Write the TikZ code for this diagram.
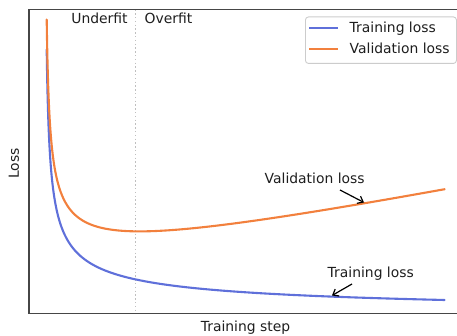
\documentclass[tikz,border=0pt]{standalone}
\usepackage{fontspec}
\setmainfont{DejaVu Sans}
\usetikzlibrary{arrows.meta}
\definecolor{trainc}{RGB}{95,112,218}
\definecolor{valc}{RGB}{242,128,61}
\definecolor{spinec}{RGB}{70,70,70}
\definecolor{txtc}{RGB}{30,30,30}
\tikzset{
  lbl/.style={inner sep=0pt, text=txtc, font=\fontsize{13.9}{16}\selectfont},
  spine/.style={draw=spinec, line width=1.3},
  curve/.style={line width=2.1, line join=round, line cap=round},
  guide/.style={draw=black!25, line width=1.4, dash pattern=on 1.4 off 2.4},
  note/.style={draw=black, line width=1.2, -{Straight Barb[length=5,width=8]}},
  legendbox/.style={draw=black!20, fill=white, rounded corners=3, line width=0.9}
}
\begin{document}
\begin{tikzpicture}[x=1pt, y=-1pt]
  \useasboundingbox (0,0) rectangle (457,336);

  % under/overfit boundary
  \draw[guide] (135.5,9.5) -- (135.5,313.7);

  % loss curves, parametrised by s = sqrt(step offset)
  \draw[curve, trainc] plot[domain=1.393:20.0, samples=200, variable=\s]
    ({44.76+\s*\s}, {318.75-375/\s});
  \draw[curve, valc] plot[domain=1.393:20.0, samples=200, variable=\s]
    ({44.76+\s*\s}, {289.14-375/\s-0.203*\s*\s});

  % axes frame
  \draw[spine] (459,9.5) -- (29,9.5) -- (29,313.7) -- (459,313.7);

  % region labels
  \node[lbl, anchor=base] (under) at (99.5,23.6) {Underfit};
  \node[lbl, anchor=base] (over) at (168.5,23.6) {Overfit};

  % axis labels
  \node[lbl, anchor=base] (xlab) at (245.5,331) {Training step};
  \node[lbl, anchor=base, rotate=90] (ylab) at (18.8,163.5) {Loss};

  % legend
  \node[legendbox, minimum width=151, minimum height=46.5, anchor=north west] (legend) at (305,16.5) {};
  \coordinate (lta) at (309,28);
  \coordinate (ltb) at (338,28);
  \coordinate (lva) at (309,49);
  \coordinate (lvb) at (338,49);
  \draw[curve, trainc, line cap=butt] (lta) -- (ltb);
  \draw[curve, valc, line cap=butt] (lva) -- (lvb);
  \node[lbl, anchor=base west] (ltrain) at (349.5,32.8) {Training loss};
  \node[lbl, anchor=base west] (lval) at (349.5,53.3) {Validation loss};

  % annotations
  \node[lbl, anchor=base west] (vnote) at (264.5,183.3) {Validation loss};
  \node[lbl, anchor=base west] (tnote) at (327.5,277) {Training loss};
  \coordinate (vtail) at (340,190);
  \coordinate (vtip) at (364,202.5);
  \coordinate (ttail) at (352,284);
  \coordinate (ttip) at (332,295.5);
  \draw[note] (vtail) -- (vtip);
  \draw[note] (ttail) -- (ttip);
\end{tikzpicture}
\end{document}
